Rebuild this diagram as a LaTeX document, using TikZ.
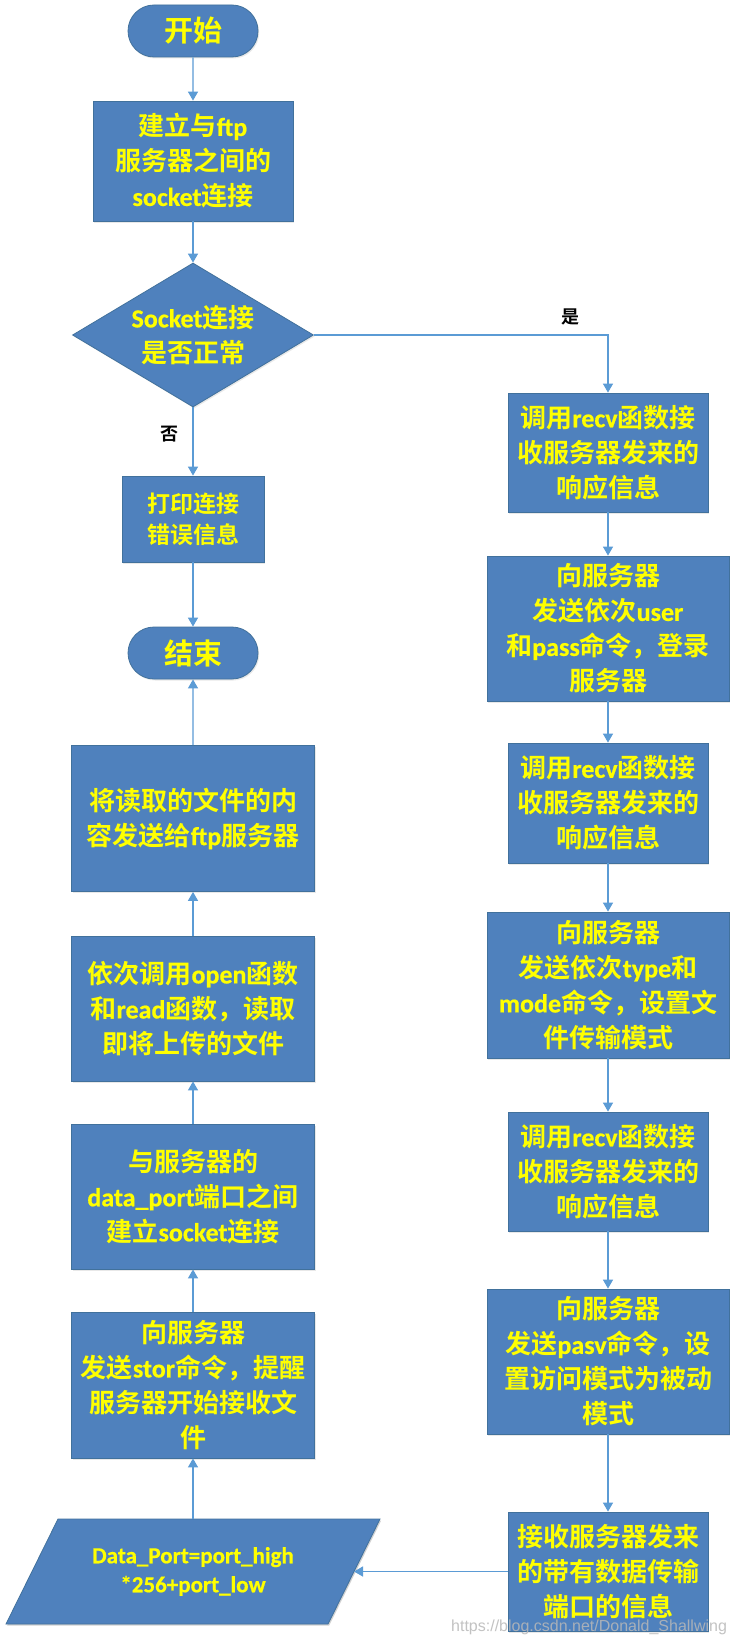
\documentclass[tikz,border=0pt]{standalone}
\usepackage{fontspec}
\usetikzlibrary{shapes.geometric,shapes.misc,arrows.meta,shadows}
\setmainfont{Noto Sans CJK SC}[BoldFont={Noto Sans CJK SC Bold}]
\newfontfamily\latf{Carlito Bold}[FakeBold=0.6]
\newfontfamily\wmfont{Liberation Sans}
\newcommand\lt[1]{{\latf #1}}
\definecolor{boxfill}{HTML}{4F81BD}
\definecolor{boxline}{HTML}{41719C}
\definecolor{linecol}{HTML}{5B9BD5}
\definecolor{txtyel}{HTML}{FFFF00}
\tikzset{
  shapebase/.style={draw=boxline, line width=0.8pt, fill=boxfill, text=txtyel,
    align=center, inner sep=0pt,
    drop shadow={shadow xshift=1.2pt, shadow yshift=-1.5pt, opacity=0.18}},
  box/.style={shapebase, rectangle, font=\fontsize{26}{35}\selectfont\bfseries},
  term/.style={shapebase, rounded rectangle, minimum width=130pt, minimum height=52pt,
    font=\fontsize{29}{34}\selectfont\bfseries},
  dia/.style={shapebase, diamond, minimum width=241pt, minimum height=144pt},
  ttext/.style={text=txtyel, align=center, inner sep=0pt},
  conn/.style={draw=linecol, line width=1.3pt, -{Triangle[width=10pt,length=9pt]}},
  lab/.style={text=black, inner sep=0pt, font=\fontsize{18}{20}\selectfont\bfseries},
  wm/.style={text=black!28, opacity=0.85, inner sep=0pt, font=\wmfont\fontsize{16}{18}\selectfont}
}
\begin{document}
\begin{tikzpicture}[x=1pt,y=-1pt]
\useasboundingbox (0,0) rectangle (736,1643);
\fill[white] (0,0) rectangle (736,1643);

% left column
\node[term] (start) at (193,31) {开始};
\node[box, minimum width=200pt, minimum height=120pt] (b1) at (193,161)
  {建立与\lt{ftp}\\服务器之间的\\\lt{socket}连接};
\node[dia] (d) at (193,335) {};
\node[ttext, font=\fontsize{26}{35}\selectfont\bfseries] (dt) at (193,335)
  {\lt{Socket}连接\\是否正常};
\node[box, minimum width=142pt, minimum height=86pt, font=\fontsize{23}{31}\selectfont\bfseries] (pr) at (193,519)
  {打印连接\\错误信息};
\node[term] (end) at (193,653) {结束};
\node[box, minimum width=243pt, minimum height=146pt] (l1) at (193,818.5)
  {将读取的文件的内\\容发送给\lt{ftp}服务器};
\node[box, minimum width=243pt, minimum height=145pt] (l2) at (193,1008.5)
  {依次调用\lt{open}函数\\和\lt{read}函数，读取\\即将上传的文件};
\node[box, minimum width=243pt, minimum height=145pt] (l3) at (193,1196.5)
  {与服务器的\\\lt{data\_port}端口之间\\建立\lt{socket}连接};
\node[box, minimum width=243pt, minimum height=146pt] (l4) at (193,1385)
  {向服务器\\发送\lt{stor}命令，提醒\\服务器开始接收文\\件};

% parallelogram
\fill[black, opacity=0.18] (59.2,1520.5) -- (381.2,1520.5) -- (329.2,1625.5) -- (7.2,1625.5) -- cycle;
\draw[boxline, line width=0.8pt, fill=boxfill] (58,1519) -- (380,1519) -- (328,1624) -- (6,1624) -- cycle;
\node[ttext, font=\fontsize{23}{29}\selectfont] (para) at (193,1571.5)
  {\lt{Data\_Port=port\_high}\\\lt{*256+port\_low}};
\coordinate (paratop) at (193,1519);
\coordinate (pararight) at (354,1571.5);

% right column
\node[box, minimum width=200pt, minimum height=119pt] (r1) at (608,452.5)
  {调用\lt{recv}函数接\\收服务器发来的\\响应信息};
\node[box, minimum width=242pt, minimum height=145pt] (r2) at (608,628.5)
  {向服务器\\发送依次\lt{user}\\和\lt{pass}命令，登录\\服务器};
\node[box, minimum width=200pt, minimum height=120pt] (r3) at (608,803)
  {调用\lt{recv}函数接\\收服务器发来的\\响应信息};
\node[box, minimum width=242pt, minimum height=146pt] (r4) at (608,985)
  {向服务器\\发送依次\lt{type}和\\\lt{mode}命令，设置文\\件传输模式};
\node[box, minimum width=200pt, minimum height=119pt] (r5) at (608,1171.5)
  {调用\lt{recv}函数接\\收服务器发来的\\响应信息};
\node[box, minimum width=242pt, minimum height=145pt] (r6) at (608,1361.5)
  {向服务器\\发送\lt{pasv}命令，设\\置访问模式为被动\\模式};
\node[box, minimum width=200pt, minimum height=119pt] (r7) at (608,1571.5)
  {接收服务器发来\\的带有数据传输\\端口的信息};

% labels
\node[lab] (yes) at (570,317) {是};
\node[lab] (no) at (169,434) {否};

% connectors
\draw[conn] (start) -- (b1);
\draw[conn] (b1) -- (d);
\draw[conn] (d) -- (pr);
\draw[conn] (d.east) -| (r1.north);
\draw[conn] (pr) -- (end);
\draw[conn] (l1) -- (end);
\draw[conn] (l2) -- (l1);
\draw[conn] (l3) -- (l2);
\draw[conn] (l4) -- (l3);
\draw[conn] (paratop) -- (l4);
\draw[conn] (r1) -- (r2);
\draw[conn] (r2) -- (r3);
\draw[conn] (r3) -- (r4);
\draw[conn] (r4) -- (r5);
\draw[conn] (r5) -- (r6);
\draw[conn] (r6) -- (r7);
\draw[conn] (r7.west) -- (pararight);

% watermark
\node[wm, anchor=west] (wmark) at (451,1627) {https://blog.csdn.net/Donald\_Shallwing};
\end{tikzpicture}
\end{document}
